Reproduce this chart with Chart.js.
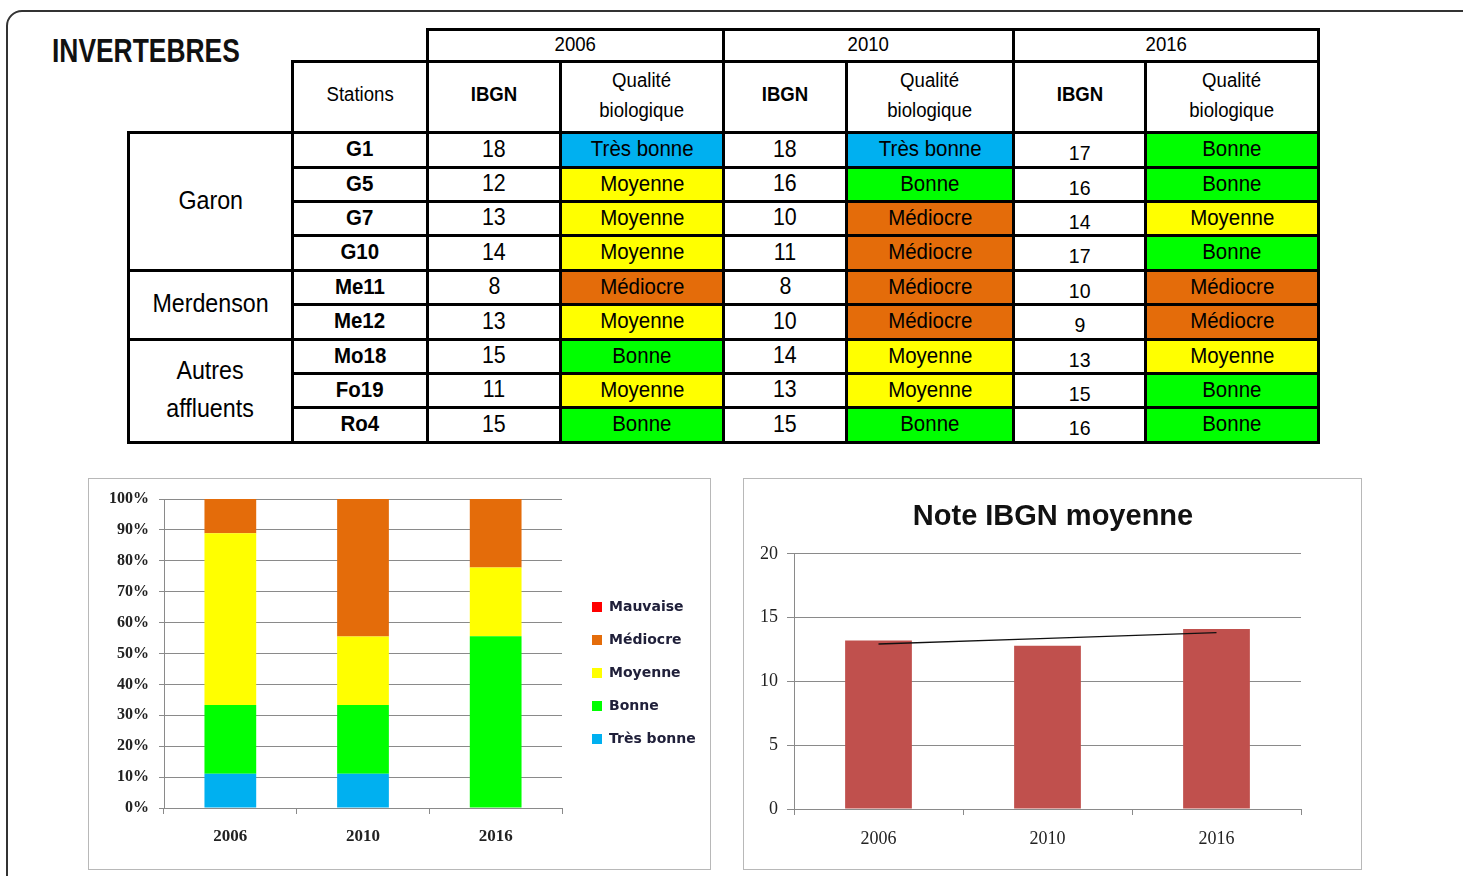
<!DOCTYPE html>
<html>
<head>
<meta charset="utf-8">
<script src="https://cdn.jsdelivr.net/npm/chart.js@4.4.1/dist/chart.umd.min.js"></script>
<style>
  html, body { margin:0; padding:0; background:#fff; }
  body { width:1463px; height:876px; position:relative; overflow:hidden; }
  #frame { position:absolute; left:6px; top:10px; width:1500px; height:900px; border:2px solid #333; border-radius:16px; box-sizing:border-box; }
  #title { position:absolute; left:52px; top:32px; font-family:'Liberation Sans Narrow','Arial Narrow','Liberation Sans',sans-serif; font-weight:bold; font-size:33px; color:#111; transform:scaleX(0.80); transform-origin:left top; white-space:nowrap; }
  .cell { position:absolute; box-sizing:border-box; border:3px solid #000; display:flex; align-items:center; justify-content:center; text-align:center; font-family:'Liberation Sans Narrow','Arial Narrow','Liberation Sans',sans-serif; color:#000; background:#fff; }
  .cell span { display:inline-block; transform:scaleX(0.93); white-space:nowrap; }
  .box { position:absolute; border:1.5px solid #b8b8b8; box-sizing:border-box; background:#fff; }
  canvas { position:absolute; left:0; top:0; }
</style>
</head>
<body>
<div id="frame"></div>
<div id="title">INVERTEBRES</div>
<div id="table"></div>
<div class="box" id="box1" style="left:88px;top:478px;width:623px;height:392px;"><canvas id="c1" width="622" height="391"></canvas></div>
<div class="box" id="box2" style="left:743px;top:478px;width:619px;height:392px;"><canvas id="c2" width="618" height="391"></canvas></div>
<script>
// ---------- table data ----------
const yearsTable = ['2006', '2010', '2016'];
const groupNames = ['Garon', 'Merdenson', 'Autres<br>affluents'];
const groupSizes = [4, 2, 3];
const stations = ['G1', 'G5', 'G7', 'G10', 'Me11', 'Me12', 'Mo18', 'Fo19', 'Ro4'];
const ibgn2006 = [18, 12, 13, 14, 8, 13, 15, 11, 15];
const qual2006 = ['Très bonne', 'Moyenne', 'Moyenne', 'Moyenne', 'Médiocre', 'Moyenne', 'Bonne', 'Moyenne', 'Bonne'];
const ibgn2010 = [18, 16, 10, 11, 8, 10, 14, 13, 15];
const qual2010 = ['Très bonne', 'Bonne', 'Médiocre', 'Médiocre', 'Médiocre', 'Médiocre', 'Moyenne', 'Moyenne', 'Bonne'];
const ibgn2016 = [17, 16, 14, 17, 10, 9, 13, 15, 16];
const qual2016 = ['Bonne', 'Bonne', 'Moyenne', 'Bonne', 'Médiocre', 'Médiocre', 'Moyenne', 'Bonne', 'Bonne'];

// ---------- chart data ----------
const years = ['2006', '2010', '2016'];
const classNames = ['Très bonne', 'Bonne', 'Moyenne', 'Médiocre', 'Mauvaise'];
const pctTresBonne = [11.1, 11.1, 0];
const pctBonne = [22.2, 22.2, 55.6];
const pctMoyenne = [55.6, 22.2, 22.2];
const pctMediocre = [11.1, 44.5, 22.2];
const pctMauvaise = [0, 0, 0];
const meanIbgn = [13.2, 12.8, 14.1];
const trendIbgn = [12.93, 13.37, 13.82];

// ---------- styles ----------
const qualColor = { 'Très bonne': '#00b0f0', 'Bonne': '#00ff00', 'Moyenne': '#ffff00', 'Médiocre': '#e46c0a', 'Mauvaise': '#ff0000' };

// ---------- table build ----------
const colX = [128, 292, 427, 560, 723, 846, 1013, 1145, 1318];
const rowY = [29, 61, 132, 167, 201, 235, 270, 304, 339, 373, 407, 442];
const tbl = document.getElementById('table');
function cell(x0, y0, x1, y1, html, st) {
  const d = document.createElement('div');
  d.className = 'cell';
  d.style.left = (x0 - 1) + 'px';
  d.style.top = (y0 - 1) + 'px';
  d.style.width = (x1 - x0 + 3) + 'px';
  d.style.height = (y1 - y0 + 3) + 'px';
  Object.assign(d.style, st || {});
  d.innerHTML = '<span>' + html + '</span>';
  tbl.appendChild(d);
  return d;
}
// year header
yearsTable.forEach((y, k) => {
  cell(colX[2 + 2 * k], rowY[0], colX[4 + 2 * k], rowY[1], y, { fontSize: '20px', paddingBottom: '3px' });
});
// sub header
cell(colX[1], rowY[1], colX[2], rowY[2], 'Stations', { fontSize: '20px', paddingBottom: '5px' });
for (let k = 0; k < 3; k++) {
  cell(colX[2 + 2 * k], rowY[1], colX[3 + 2 * k], rowY[2], 'IBGN', { fontSize: '20px', fontWeight: 'bold', paddingBottom: '5px' });
  cell(colX[3 + 2 * k], rowY[1], colX[4 + 2 * k], rowY[2], 'Qualité<br>biologique', { fontSize: '20px', lineHeight: '30px', paddingBottom: '4px' });
}
// groups
let r = 0;
groupNames.forEach((g, gi) => {
  cell(colX[0], rowY[2 + r], colX[1], rowY[2 + r + groupSizes[gi]], g, { fontSize: '25px', lineHeight: '38px', paddingBottom: '4px' });
  r += groupSizes[gi];
});
// rows
const ibgnCols = [ibgn2006, ibgn2010, ibgn2016];
const qualCols = [qual2006, qual2010, qual2016];
stations.forEach((s, i) => {
  const y0 = rowY[2 + i], y1 = rowY[3 + i];
  cell(colX[1], y0, colX[2], y1, s, { fontSize: '22px', fontWeight: 'bold', paddingBottom: '2px' });
  for (let k = 0; k < 3; k++) {
    cell(colX[2 + 2 * k], y0, colX[3 + 2 * k], y1, String(ibgnCols[k][i]),
      { fontSize: k === 2 ? '21px' : '23px', paddingTop: k === 2 ? '6px' : '0px', paddingBottom: k === 2 ? '0px' : '2px' });
    cell(colX[3 + 2 * k], y0, colX[4 + 2 * k], y1, qualCols[k][i],
      { fontSize: '22px', background: qualColor[qualCols[k][i]], paddingBottom: '2px' });
  }
});

// ---------- charts ----------
const serif = "'Liberation Serif','DejaVu Serif',serif";
const gridCol = '#8a8a8a';

// chart 1: stacked percentages
const LEGEND_W = 149;
const legendPlace = {
  id: 'legendPlace',
  beforeLayout(chart) {
    const lg = chart.legend;
    if (lg && !lg.__fixed) {
      const f = lg.fit;
      lg.fit = function () { f.call(this); this.width = LEGEND_W; };
      lg.__fixed = true;
    }
  },
  afterLayout(chart) {
    const lg = chart.legend;
    lg.left = 484; lg.right = 622; lg.top = 0; lg.bottom = 388;
  }
};
const pctSeries = [pctTresBonne, pctBonne, pctMoyenne, pctMediocre, pctMauvaise];
new Chart(document.getElementById('c1'), {
  type: 'bar',
  data: {
    labels: years,
    datasets: classNames.map((n, i) => ({
      label: n,
      data: pctSeries[i],
      backgroundColor: qualColor[n],
      borderWidth: 0,
      categoryPercentage: 1,
      barPercentage: 0.39
    }))
  },
  options: {
    responsive: false,
    animation: false,
    devicePixelRatio: 1,
    layout: { padding: { top: 20, right: 0, left: 0, bottom: 0 } },
    plugins: {
      legend: {
        position: 'right',
        reverse: true,
        labels: {
          boxWidth: 10, boxHeight: 10, padding: 19,
          color: '#20203a',
          font: { family: "'DejaVu Sans',sans-serif", size: 14, weight: 'bold' }
        }
      },
      tooltip: { enabled: false },
      title: { display: false }
    },
    scales: {
      x: {
        stacked: true,
        afterFit: s => { s.height = 62; },
        grid: { display: true, drawOnChartArea: false, drawTicks: true, tickLength: 6, color: gridCol, offset: true },
        border: { color: gridCol, width: 1 },
        ticks: { color: '#222', padding: 12, font: { family: serif, size: 17, weight: 'bold' } }
      },
      y: {
        stacked: true,
        min: 0, max: 100,
        afterFit: s => { s.width = 75; },
        grid: { color: gridCol, tickLength: 5 },
        border: { color: gridCol, width: 1 },
        ticks: { stepSize: 10, color: '#222', padding: 10, callback: v => v + '%', font: { family: serif, size: 16, weight: 'bold' } }
      }
    }
  },
  plugins: [legendPlace]
});

// chart 2: mean IBGN
new Chart(document.getElementById('c2'), {
  type: 'bar',
  data: {
    labels: years,
    datasets: [
      { type: 'line', label: 'Tendance', data: trendIbgn, borderColor: '#111', borderWidth: 1.3, pointRadius: 0, fill: false, order: 0 },
      { type: 'bar', label: 'Note IBGN moyenne', data: meanIbgn, backgroundColor: '#c0504d', borderWidth: 0, categoryPercentage: 1, barPercentage: 0.395, order: 1 }
    ]
  },
  options: {
    responsive: false,
    animation: false,
    devicePixelRatio: 1,
    layout: { padding: { top: 0, right: 0, left: 0, bottom: 0 } },
    plugins: {
      legend: { display: false },
      tooltip: { enabled: false },
      title: {
        display: true,
        text: 'Note IBGN moyenne',
        color: '#111',
        font: { family: "'Liberation Sans','Open Sans',sans-serif", size: 29, weight: 'bold', lineHeight: 1.2 },
        padding: { top: 21, bottom: 19 }
      }
    },
    scales: {
      x: {
        afterFit: s => { s.height = 61; },
        grid: { display: true, drawOnChartArea: false, drawTicks: true, tickLength: 6, color: gridCol, offset: true },
        border: { color: gridCol, width: 1 },
        ticks: { color: '#222', padding: 13, font: { family: serif, size: 18 } }
      },
      y: {
        min: 0, max: 20,
        afterFit: s => { s.width = 50; },
        grid: { color: gridCol, tickLength: 7 },
        border: { color: gridCol, width: 1 },
        ticks: { stepSize: 5, color: '#222', padding: 9, font: { family: serif, size: 18 } }
      },
      yRight: {
        position: 'right',
        display: true,
        afterFit: s => { s.width = 61; },
        grid: { display: false },
        border: { display: false },
        ticks: { display: false }
      }
    }
  }
});
</script>
</body>
</html>
